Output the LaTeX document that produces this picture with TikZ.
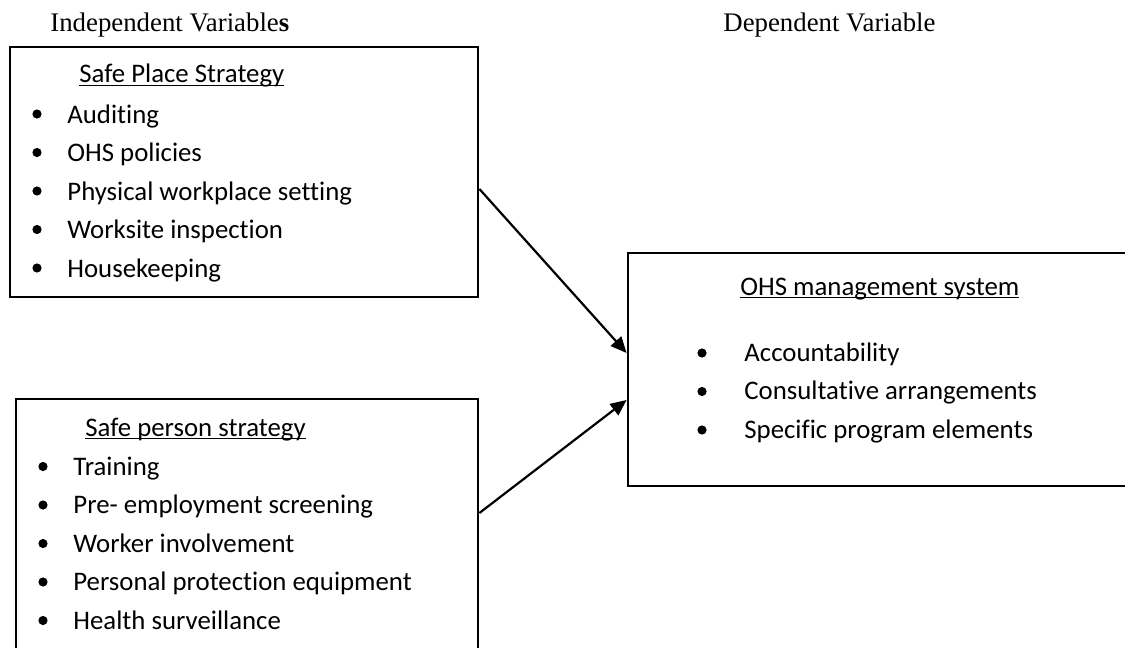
\documentclass[tikz,border=0pt]{standalone}
\usepackage{fontspec}
\setmainfont{Liberation Serif}
\newfontfamily\calfont[Ligatures=NoCommon]{Carlito}
\usetikzlibrary{arrows.meta}
\begin{document}
\begin{tikzpicture}[x=0.5pt,y=-0.5pt,
  box/.style={draw,line width=1.4pt,rectangle,inner sep=0pt},
  serif/.style={font=\fontsize{13.4}{16}\selectfont,anchor=base west,inner sep=0pt},
  txt/.style={font=\calfont\fontsize{13.4}{16}\selectfont,anchor=base west,inner sep=0pt},
  bul/.style={circle,fill,inner sep=0pt,minimum size=4.6pt},
  conn/.style={line width=1.1pt,-{Triangle[length=8pt,width=7pt]}}]
\useasboundingbox (0,0) rectangle (1125,648);
\clip (0,0) rectangle (1125,648);
% headings
\node[serif] (indep) at (50,32) {Independent Variable\textbf{s}};
\node[serif] (dep) at (723,32) {Dependent Variable};
% boxes
\node[box,minimum width=234pt,minimum height=125pt] (place) at (244,172) {};
\node[box,minimum width=231pt,minimum height=135pt] (person) at (247,534) {};
\node[box,minimum width=253.5pt,minimum height=116.5pt] (ohs) at (881.5,369.5) {};
% box 1
\node[txt] (placeh) at (79,83) {\underline{\smash{Safe Place Strategy}}};
\node[bul] (b11) at (37,114) {};
\node[txt] (p1) at (67,123) {Auditing};
\node[bul] (b12) at (37,152.5) {};
\node[txt] (p2) at (67,161.5) {OHS policies};
\node[bul] (b13) at (37,191) {};
\node[txt] (p3) at (67,200) {Physical workplace setting};
\node[bul] (b14) at (37,229.5) {};
\node[txt] (p4) at (67,238.5) {Worksite inspection};
\node[bul] (b15) at (37,268) {};
\node[txt] (p5) at (67,277) {Housekeeping};
% box 2
\node[txt] (personh) at (85,436) {\underline{\smash{Safe person strategy}}};
\node[bul] (b21) at (43,466.5) {};
\node[txt] (q1) at (73,475) {Training};
\node[bul] (b22) at (43,505) {};
\node[txt] (q2) at (73,513.5) {Pre- employment screening};
\node[bul] (b23) at (43,543.5) {};
\node[txt] (q3) at (73,552) {Worker involvement};
\node[bul] (b24) at (43,582) {};
\node[txt] (q4) at (73,590.5) {Personal protection equipment};
\node[bul] (b25) at (43,620.5) {};
\node[txt] (q5) at (73,629) {Health surveillance};
% box 3
\node[txt] (ohsh) at (740,295) {\underline{\smash{OHS management system}}};
\node[bul] (b31) at (702,353) {};
\node[txt] (r1) at (744,361) {Accountability};
\node[bul] (b32) at (702,391.5) {};
\node[txt] (r2) at (744,399.5) {Consultative arrangements};
\node[bul] (b33) at (702,430) {};
\node[txt] (r3) at (744,438) {Specific program elements};
% connectors
\coordinate (s1) at (place.east |- 0,189);
\coordinate (e1) at (ohs.west |- 0,353);
\coordinate (s2) at (person.east |- 0,513);
\coordinate (e2) at (ohs.west |- 0,400);
\draw[conn] (s1) -- (e1);
\draw[conn] (s2) -- (e2);
\end{tikzpicture}
\end{document}
